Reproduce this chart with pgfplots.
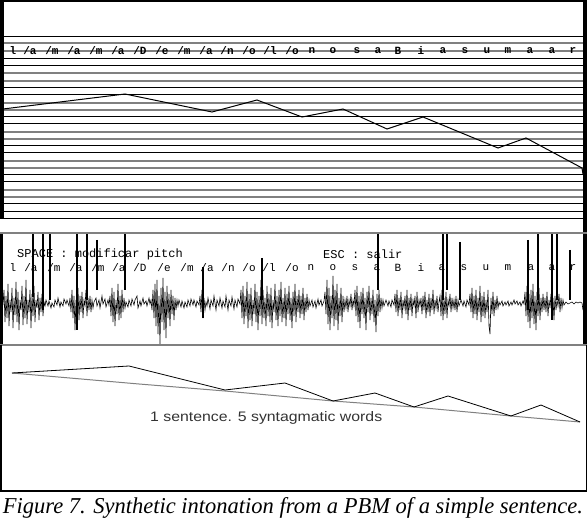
\documentclass[border=0pt]{standalone}
\usepackage{fontspec}
\setmainfont{Liberation Serif}
\setsansfont{Liberation Sans}
\setmonofont{Liberation Mono}
\usepackage{pgfplots}
\pgfplotsset{compat=1.18}
\newcommand{\lab}[3]{\node[inner sep=0pt,font=\ttfamily\fontsize{11}{11}\selectfont] at (axis cs:#1,#2) {#3};}
\newcommand{\labb}[3]{\node[inner sep=0pt,font=\ttfamily\bfseries\fontsize{11}{11}\selectfont] at (axis cs:#1,#2) {#3};}
\begin{document}
\begin{tikzpicture}
\path[use as bounding box] (0,0) rectangle (587pt,521pt);
\begin{axis}[at={(0,0)},anchor=south west,scale only axis,width=587pt,height=521pt,
  xmin=0,xmax=587,ymin=0,ymax=521,y dir=reverse,axis lines=none,ticks=none,clip=false,
  unbounded coords=jump]
% ---------- panel 1 : pitch grid ----------
\addplot[black,line width=1pt] coordinates {
(3,37) (584,37) (nan,nan)
(3,59) (584,59) (nan,nan) (3,66) (584,66) (nan,nan)
(3,88) (584,88) (nan,nan) (3,95) (584,95) (nan,nan)
(3,117) (584,117) (nan,nan) (3,124) (584,124) (nan,nan)
(3,146) (584,146) (nan,nan) (3,153) (584,153) (nan,nan)
(3,175) (584,175) (nan,nan) (3,182) (584,182) (nan,nan)
(3,204) (584,204) (nan,nan) (3,212) (584,212) (nan,nan)
(3,219) (584,219)};
\addplot[gray,line width=1.2pt] coordinates {
(3,51) (584,51) (nan,nan)
(3,73) (584,73) (nan,nan) (3,81) (584,81) (nan,nan)
(3,103) (584,103) (nan,nan) (3,110) (584,110) (nan,nan)
(3,132) (584,132) (nan,nan) (3,139) (584,139) (nan,nan)
(3,161) (584,161) (nan,nan) (3,168) (584,168) (nan,nan)
(3,190) (584,190) (nan,nan) (3,197) (584,197)};
\addplot[gray,line width=2pt] coordinates {(3,43.5) (584,43.5)};
% pitch contour
\addplot[black,line width=1pt] coordinates {
(3,109) (125,94) (212,112) (257,100) (302,117) (343,109) (387,129)
(423,117) (498,148) (526,138) (582,168) (583,174)};
% ---------- panel 2 : waveform ----------
\addplot[black,line width=0.6pt] coordinates {
(3,305) (4,290) (5,322) (6,296) (7,318) (8,284) (9,326) (10,300) (11,312) (12,288) (13,328) (14,298) (15,315) (16,282) (17,322) (18,292) (19,330) (20,300) (21,310) (22,286) (23,325) (24,296) (25,318) (26,280) (27,324) (28,300) (29,312) (30,290) (31,328) (32,294) (33,316) (34,286) (35,322) (36,300) (37,308) (38,292) (39,320) (40,298) (41,312) (42,294) (43,316) (44,302) (45,306)
(46,300) (48,306) (49,301) (51,308) (52,303) (54,307) (55,300) (57,305) (58,298) (60,307) (61,302) (63,306) (64,299) (66,304) (67,300) (69,306) (70,298)
(71,312) (72,290) (73,318) (74,296) (75,330) (76,300) (77,314) (78,288) (79,320) (80,296) (81,312) (82,292) (83,318) (84,300) (85,306) (86,290) (87,316) (88,298) (89,310) (90,296) (91,312) (92,300) (93,308) (94,302)
(96,298) (97,306) (99,300) (100,308) (102,296) (103,304) (105,299) (106,307) (108,300) (109,305)
(110,296) (111,316) (112,288) (113,322) (114,292) (115,326) (116,300) (117,314) (118,284) (119,320) (120,296) (121,318) (122,290) (123,312) (124,298) (125,308)
(126,302) (128,307) (129,300) (131,306) (132,299) (134,305) (135,300) (137,296) (138,308) (140,301) (141,306) (143,298) (144,304) (146,301) (147,306) (149,298) (150,304) (151,300)
(152,310) (153,290) (154,318) (155,284) (156,326) (157,280) (158,334) (159,296) (160,345) (161,288) (162,322) (163,278) (164,330) (165,292) (166,338) (167,286) (168,318) (169,294) (170,326) (171,290) (172,314) (173,296) (174,320) (175,298) (176,310) (177,300) (178,306)
(179,300) (181,307) (182,301) (184,308) (185,302) (187,307) (188,300) (190,306) (191,299) (193,305) (194,300) (196,307) (197,301) (199,305)
(200,296) (201,312) (202,290) (203,318) (204,298) (205,310) (206,302)
(207,306) (208,298) (210,309) (211,300) (213,306) (214,296) (216,310) (217,300) (219,306) (220,298) (222,308) (223,301) (225,307) (226,296) (228,310) (229,300) (231,306) (232,297) (234,309) (235,300) (237,307) (238,299) (240,304)
(241,290) (242,318) (243,286) (244,324) (245,296) (246,316) (247,282) (248,328) (249,294) (250,320) (251,288) (252,326) (253,300) (254,314) (255,284) (256,322) (257,292) (258,330) (259,296) (260,316) (261,280) (262,324) (263,290) (264,318) (265,298) (266,326) (267,286) (268,316) (269,294) (270,322) (271,288) (272,328) (273,300) (274,312) (275,284) (276,320) (277,296) (278,326) (279,290) (280,316) (281,282) (282,322) (283,298) (284,318) (285,288) (286,326) (287,294) (288,314) (289,286) (290,320) (291,298) (292,328) (293,292) (294,316) (295,284) (296,322) (297,296) (298,312) (299,290) (300,318)
(301,296) (302,314) (303,288) (304,320) (305,298) (306,312) (307,294) (308,310) (309,300)
(310,306) (312,300) (313,307) (315,301) (316,308) (318,299) (319,305) (321,300) (322,306) (324,301)
(325,292) (326,314) (327,280) (328,324) (329,288) (330,330) (331,296) (332,318) (333,276) (334,326) (335,290) (336,320) (337,284) (338,330) (339,298) (340,316) (341,288) (342,322) (343,296) (344,312) (345,300)
(346,308) (347,296) (348,312) (349,300) (350,306) (351,294) (352,310) (353,300) (354,306)
(355,290) (356,316) (357,286) (358,322) (359,296) (360,328) (361,292) (362,314) (363,288) (364,318) (365,298) (366,330) (367,292) (368,312) (369,286) (370,320) (371,298) (372,314) (373,290) (374,322) (375,300) (376,332) (377,294) (378,316) (379,290) (380,312) (381,298) (382,308) (383,300) (384,306)
(386,300) (388,306) (389,301) (391,307) (392,300) (394,305)
(395,294) (396,312) (397,290) (398,316) (399,298) (400,310) (401,292) (402,318) (403,300) (404,308) (405,296) (406,314) (407,290) (408,320) (409,298) (410,310) (411,294) (412,316) (413,300) (414,306) (415,296) (416,318) (417,292) (418,312) (419,300) (420,306) (421,298) (422,314) (423,296) (424,310) (425,292) (426,318) (427,300) (428,312) (429,294) (430,316) (431,298) (432,310) (433,290) (434,314) (435,300) (436,308) (437,296) (438,312) (439,302)
(440,296) (441,316) (442,290) (443,320) (444,298) (445,314) (446,292) (447,318) (448,300) (449,306) (450,294) (451,312) (452,298) (453,308) (454,300) (455,310) (456,296) (457,312) (458,300) (459,306)
(461,300) (463,306) (464,301) (466,307) (467,300) (469,305)
(470,294) (471,312) (472,288) (473,318) (474,296) (475,314) (476,290) (477,320) (478,298) (479,312) (480,286) (481,322) (482,296) (483,316) (484,292) (485,318) (486,300) (487,312) (488,290) (489,326) (490,334) (491,298) (492,314) (493,292) (494,316) (495,300) (496,310) (497,296) (498,308) (499,302)
(500,305) (502,301) (503,306) (505,302) (506,305) (508,301) (509,306) (511,302) (512,305) (514,300) (515,304) (517,301) (518,305) (520,302) (521,306) (523,301) (524,304)
(525,292) (526,316) (527,286) (528,322) (529,294) (530,328) (531,290) (532,318) (533,284) (534,324) (535,296) (536,330) (537,292) (538,316) (539,288) (540,320) (541,298) (542,312) (543,294) (544,310)
(545,298) (546,312) (547,292) (548,316) (549,300) (550,308) (551,294) (552,314) (553,298) (554,320) (555,296) (556,310) (557,300) (558,306) (559,294) (560,312) (561,298) (562,308) (563,300) (564,305)
(566,302) (568,304) (570,303) (572,302) (574,304) (576,302) (578,303) (580,302) (582,303) (583,310)};
% pitch marks
\addplot[black,line width=1.4pt] coordinates {
(33,233) (33,297) (nan,nan) (43,233) (43,310) (nan,nan) (50,233) (50,300) (nan,nan)
(77,233) (77,330) (nan,nan) (87,233) (87,300) (nan,nan) (97,240) (97,290) (nan,nan)
(125,233) (125,290) (nan,nan) (203,267) (203,318) (nan,nan) (262,258) (262,300) (nan,nan)
(378,233) (378,290) (nan,nan) (443,233) (443,300) (nan,nan) (447,233) (447,290) (nan,nan)
(460,242) (460,300) (nan,nan) (528,240) (528,310) (nan,nan) (538,233) (538,300) (nan,nan)
(552,233) (552,320) (nan,nan) (557,233) (557,300) (nan,nan) (570,250) (570,300)};
% ---------- panel 3 : contour and declination ----------
\addplot[gray,line width=1pt] coordinates {
(12,373) (139,384) (225,391) (333,401) (414,407) (511,416) (580,422)};
\addplot[black,line width=0.8pt] coordinates {
(12,373) (129,366) (225,390) (285,383) (333,401) (375,393) (414,407)
(448,396) (511,416) (541,405) (580,422)};
% ---------- frames ----------
\addplot[black,line width=2pt] coordinates {(0,1) (587,1)};
\addplot[black,line width=4pt] coordinates {(2,0) (2,219)};
\addplot[black,line width=3pt] coordinates {(1.5,233) (1.5,345)};
\addplot[black,line width=4pt] coordinates {(585,0) (585,345)};
\addplot[gray,line width=2pt] coordinates {(0,233) (587,233)};
\addplot[gray,line width=2pt] coordinates {(0,345) (587,345)};
\addplot[black,line width=1.5pt] coordinates {(0.75,345) (0.75,491) (586.25,491) (586.25,345)};
% ---------- texts ----------
\labb{13}{51}{l}\labb{30}{51}{/a}\labb{52}{51}{/m}\labb{74}{51}{/a}\labb{96}{51}{/m}
\labb{118}{51}{/a}\labb{140}{51}{/D}\labb{162}{51}{/e}\labb{184}{51}{/m}\labb{206}{51}{/a}
\labb{227}{51}{/n}\labb{249}{51}{/o}\labb{270}{51}{/l}\labb{292}{51}{/o}\labb{312}{51}{n}
\labb{333}{51}{o}\labb{357}{51}{s}\labb{378}{51}{a}\labb{398}{51}{B}\labb{421}{51}{i}
\labb{443}{51}{a}\labb{465}{51}{s}\labb{487}{51}{u}\labb{508}{51}{m}\labb{530}{51}{a}
\labb{552}{51}{a}\labb{573}{51}{r}
\lab{13}{268}{l}\lab{31}{268}{/a}\lab{54}{268}{/m}\lab{76}{268}{/a}\lab{98}{268}{/m}
\lab{119}{268}{/a}\lab{140}{268}{/D}\lab{164}{268}{/e}\lab{187}{268}{/m}\lab{207}{268}{/a}
\lab{228}{268}{/n}\lab{249}{268}{/o}\lab{269}{268}{/l}\lab{292}{268}{/o}\lab{311}{268}{n}
\lab{333}{268}{o}\lab{355}{268}{s}\lab{377}{268}{a}\lab{398}{268}{B}\lab{421}{268}{i}
\lab{442}{268}{a}\lab{464}{268}{s}\lab{486}{268}{u}\lab{508}{268}{m}\lab{531}{268}{a}
\lab{552}{268}{a}\lab{573}{268}{r}
\node[inner sep=0pt,anchor=west,font=\ttfamily\fontsize{12}{12}\selectfont] at (axis cs:17,254) {SPACE : modificar pitch};
\node[inner sep=0pt,anchor=west,font=\ttfamily\fontsize{12}{12}\selectfont] at (axis cs:323,254) {ESC : salir};
\node[inner sep=0pt,anchor=west,text=black!80] at (axis cs:150,418) {\resizebox{232pt}{10pt}{\sffamily 1 sentence. 5 syntagmatic words}};
\node[inner sep=0pt] at (axis cs:293,508) {\resizebox{580pt}{16pt}{\itshape Figure 7. Synthetic intonation from a PBM of a simple sentence.}};
\end{axis}
\end{tikzpicture}
\end{document}
